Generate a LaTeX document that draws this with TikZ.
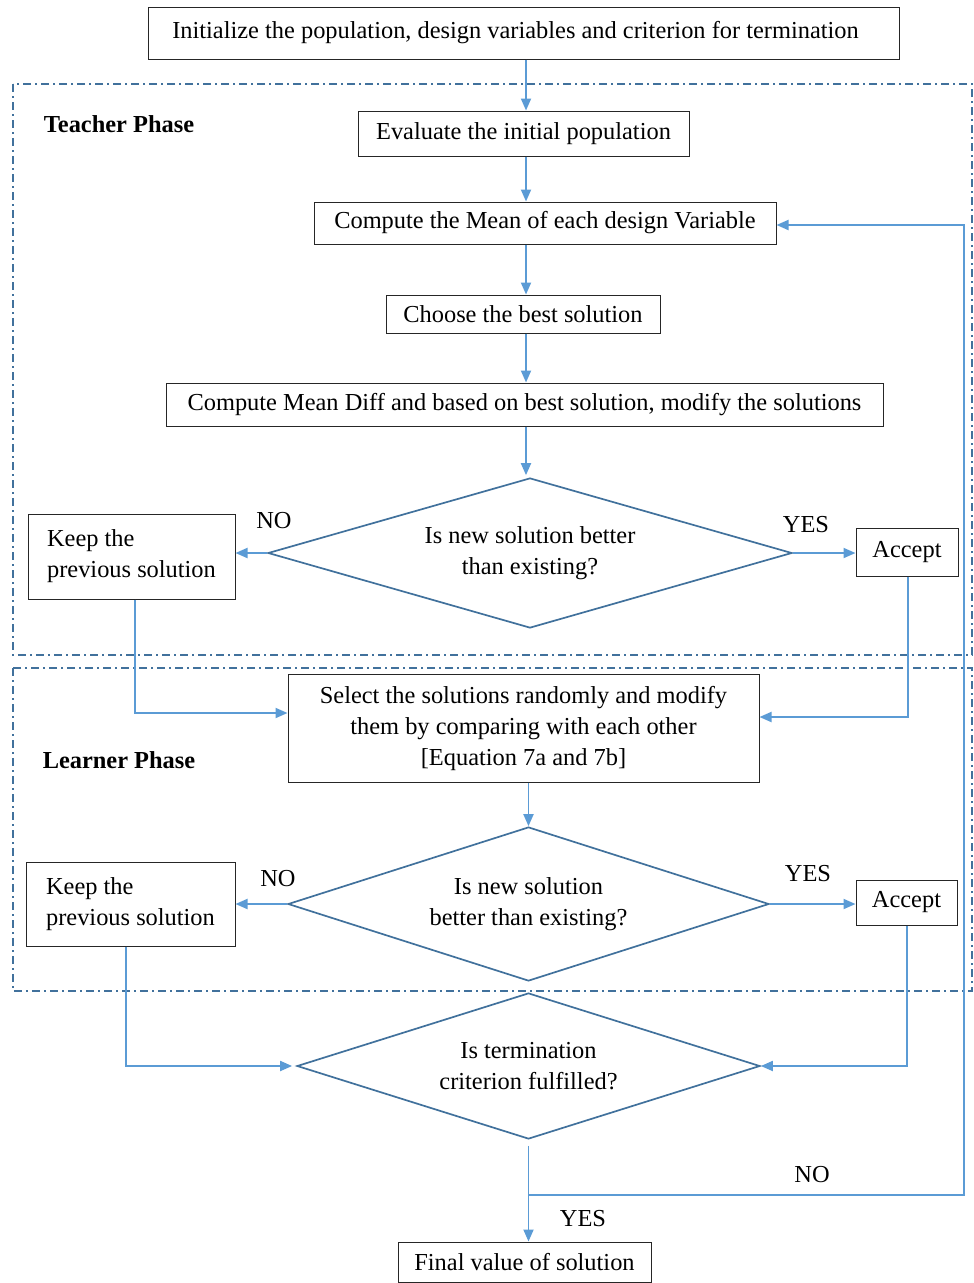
\documentclass[tikz,border=0pt]{standalone}
\usepackage{fontspec}
\setmainfont{Liberation Serif}
\usetikzlibrary{shapes.geometric,arrows.meta}
\definecolor{arrowblue}{HTML}{5B9BD5}
\definecolor{darkblue}{HTML}{41719C}
\begin{document}
\begin{tikzpicture}[x=1pt,y=-1pt,
  font=\fontsize{24.4}{31}\selectfont,
  box/.style={draw=black!85, line width=1pt, inner sep=0pt, align=center},
  dec/.style={diamond, draw=darkblue, line width=1.7pt, inner sep=0pt, align=center},
  arr/.style={draw=arrowblue, line width=1.9pt, -{Triangle[length=12pt,width=10pt]}},
  phasebox/.style={draw=darkblue, line width=1.6pt, dash pattern=on 8pt off 4pt on 2pt off 4pt},
  lbl/.style={inner sep=0pt}]
\useasboundingbox (0,0) rectangle (974,1283);

% phase frames
\draw[phasebox] (13,84) rectangle (972,655);
\draw[phasebox] (13,668) rectangle (972,991);
\node[lbl, font=\fontsize{24.4}{31}\selectfont\bfseries] (tp) at (119,124) {Teacher Phase};
\node[lbl, font=\fontsize{24.4}{31}\selectfont\bfseries] (lp) at (119,760) {Learner Phase};

% nodes
\node[box, minimum width=751, minimum height=52] (init) at (523.5,33) {Initialize the population, design variables and criterion for termination\hspace*{16pt}};
\node[box, minimum width=331, minimum height=45] (eval) at (523.5,133.5) {Evaluate the initial population};
\node[box, minimum width=462, minimum height=42] (mean) at (545,223) {Compute the Mean of each design Variable};
\node[box, minimum width=274, minimum height=38] (best) at (523,314) {Choose the best solution};
\node[box, minimum width=717, minimum height=43] (diff) at (524.5,404.5) {Compute Mean Diff and based on best solution, modify the solutions};
\node[dec, aspect=3.49, minimum width=524, minimum height=150] (d1) at (530,553) {Is new solution better\\than existing?};
\node[box, minimum width=207, minimum height=85, align=left] (keep1) at (131.5,556.5) {Keep the\\previous solution};
\node[box, minimum width=102, minimum height=48] (acc1) at (907,552) {Accept};
\node[box, minimum width=471, minimum height=108] (sel) at (523.5,728) {Select the solutions randomly and modify\\them by comparing with each other\\{[}Equation 7a and 7b{]}};
\node[dec, aspect=3.12, minimum width=481, minimum height=154] (d2) at (528.5,904) {Is new solution\\better than existing?};
\node[box, minimum width=209, minimum height=84, align=left] (keep2) at (130.5,904) {Keep the\\previous solution};
\node[box, minimum width=101, minimum height=45] (acc2) at (906.5,902.5) {Accept};
\node[dec, aspect=3.17, minimum width=463, minimum height=146] (d3) at (528.5,1066) {Is termination\\criterion fulfilled?};
\node[box, minimum width=253, minimum height=40] (final) at (524.5,1262) {Final value of solution};

% labels
\node[lbl] (no1) at (274,521) {NO};
\node[lbl] (yes1) at (806,525) {YES};
\node[lbl] (no2) at (278,879) {NO};
\node[lbl] (yes2) at (808,874) {YES};
\node[lbl] (yes3) at (583,1219) {YES};
\node[lbl] (no3) at (812,1175) {NO};

% connectors
\coordinate (c1) at (526,0);
\draw[arr] (init.south -| c1) -- (eval.north -| c1);
\draw[arr] (eval.south -| c1) -- (mean.north -| c1);
\draw[arr] (mean.south -| c1) -- (best.north -| c1);
\draw[arr] (best.south -| c1) -- (diff.north -| c1);
\draw[arr] (diff.south -| c1) -- ([yshift=2pt]d1.north -| c1);
\draw[arr] (d1.west) -- (d1.west -| keep1.east);
\draw[arr] (d1.east) -- (d1.east -| acc1.west);
\draw[arr] ([xshift=3.5pt]keep1.south) |- ([yshift=15pt]sel.west);
\draw[arr] ([xshift=1pt]acc1.south) |- ([yshift=11pt]sel.east);
\draw[arr] (sel.south -| d2.north) -- (d2.north);
\draw[arr] (d2.west) -- (d2.west -| keep2.east);
\draw[arr] (d2.east) -- (d2.east -| acc2.west);
\draw[arr] ([xshift=-4.5pt]keep2.south) |- ([xshift=-4pt]d3.west);
\draw[arr] ([xshift=0.5pt]acc2.south) |- (d3.east);
\draw[arr] ([yshift=-6pt]d3.south) -- (final.north -| d3.south);
\coordinate (fb) at (528.5,1195);
\coordinate (fbr) at (964,1195);
\coordinate (fbt) at (964,225);
\draw[arr] (fb) -- (fbr) -- (fbt) -- (fbt -| mean.east);
\end{tikzpicture}
\end{document}
